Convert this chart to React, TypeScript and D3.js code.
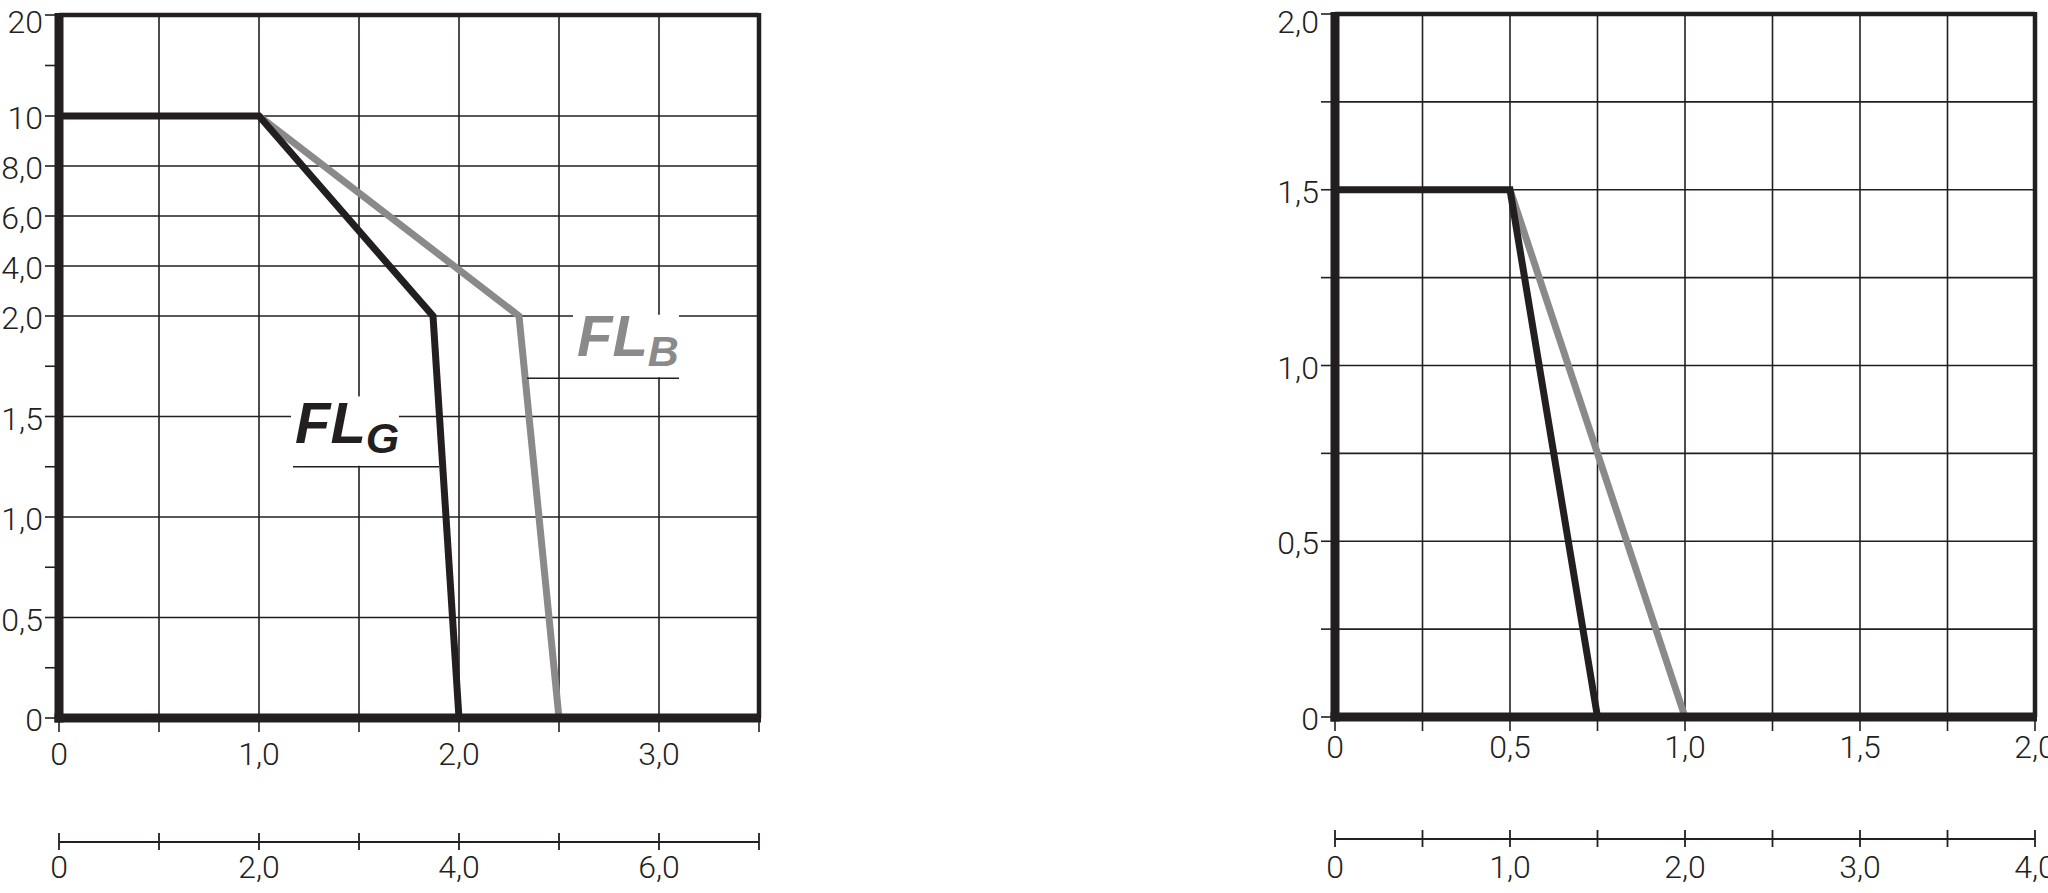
import * as d3 from "d3";

// left chart
const L_X_GRID = [0.5, 1, 1.5, 2, 2.5, 3];
const L_X_TICKS = [0, 0.5, 1, 1.5, 2, 2.5, 3, 3.5];
const L_X_LABELS = [0, 1, 2, 3];
const L_Y_GRID = [0.5, 1, 1.5, 2, 4, 6, 8, 10];
const L_Y_LABELS = [0, 0.5, 1, 1.5, 2, 4, 6, 8, 10, 20];
const L_Y_MINOR = [0.25, 0.75, 1.25, 1.75, 15];
const L_SEC_TICKS = [0, 1, 2, 3, 4, 5, 6, 7];
const L_SEC_LABELS = [0, 2, 4, 6];
const FL_G: [number, number][] = [[0, 10], [1, 10], [1.87, 2], [2, 0]];
const FL_B: [number, number][] = [[1, 10], [2.3, 2], [2.5, 0]];

// right chart
const R_GRID = [0.25, 0.5, 0.75, 1, 1.25, 1.5, 1.75];
const R_TICKS = [0, 0.25, 0.5, 0.75, 1, 1.25, 1.5, 1.75, 2];
const R_LABELS = [0, 0.5, 1, 1.5, 2];
const R_SEC_TICKS = [0, 0.5, 1, 1.5, 2, 2.5, 3, 3.5, 4];
const R_SEC_LABELS = [0, 1, 2, 3, 4];
const R_BLACK: [number, number][] = [[0, 1.5], [0.5, 1.5], [0.75, 0]];
const R_GREY: [number, number][] = [[0.5, 1.5], [1, 0]];

const INK = "#231f20";
const GREY = "#8a8a8a";
const FONT = "Roboto, 'Liberation Sans', sans-serif";

const fmt = (d: number) => (d === 0 ? "0" : d >= 10 ? String(d) : d.toFixed(1).replace(".", ","));

function Panel(props: {
  x: d3.ScaleLinear<number, number>;
  y: d3.ScaleLinear<number, number>;
  sec: d3.ScaleLinear<number, number>;
  xGrid: number[];
  yGrid: number[];
  xTicks: number[];
  xLabels: number[];
  yTicks: number[];
  yLabels: number[];
  secTicks: number[];
  secLabels: number[];
  secY: number;
  xLabelBase: number;
  series: { pts: [number, number][]; color: string }[];
  children?: any;
}) {
  const { x, y, sec } = props;
  const [x0, x1] = x.range();
  const yr = y.range();
  const y0 = yr[0];
  const y1 = yr[yr.length - 1];
  const line = d3
    .line<[number, number]>()
    .x((d) => x(d[0]))
    .y((d) => y(d[1]));
  return (
    <g>
      {props.xGrid.map((v) => (
        <line key={"gx" + v} x1={x(v)} x2={x(v)} y1={y0} y2={y1} stroke={INK} strokeWidth={1.6} />
      ))}
      {props.yGrid.map((v) => (
        <line key={"gy" + v} x1={x0} x2={x1} y1={y(v)} y2={y(v)} stroke={INK} strokeWidth={1.6} />
      ))}
      {props.children}
      {props.series.map((s, i) => (
        <path key={i} d={line(s.pts) ?? ""} fill="none" stroke={s.color} strokeWidth={7} strokeLinejoin="miter" />
      ))}
      {/* frame */}
      <line x1={x0} x2={x1} y1={y1} y2={y1} stroke={INK} strokeWidth={4.5} />
      <line x1={x1} x2={x1} y1={y1 - 2} y2={y0} stroke={INK} strokeWidth={4.5} />
      <line x1={x0} x2={x0} y1={y1 - 2} y2={y0 + 4.5} stroke={INK} strokeWidth={9} />
      <line x1={x0 - 4.5} x2={x1 + 2} y1={y0} y2={y0} stroke={INK} strokeWidth={9} />
      {/* y ticks */}
      {props.yTicks.map((v) => (
        <line key={"ty" + v} x1={x0 - 14} x2={x0} y1={y(v)} y2={y(v)} stroke={INK} strokeWidth={1.6} />
      ))}
      {props.yLabels.map((v) => (
        <text key={"ly" + v} x={x0 - 16} y={Math.max(y(v) + 13, 33)} textAnchor="end" fontSize={32} fontWeight={300} fontFamily={FONT} fill={INK}>
          {fmt(v)}
        </text>
      ))}
      {/* x ticks */}
      {props.xTicks.map((v) => (
        <line key={"tx" + v} x1={x(v)} x2={x(v)} y1={y0} y2={y0 + 14} stroke={INK} strokeWidth={1.6} />
      ))}
      {props.xLabels.map((v) => (
        <text key={"lx" + v} x={x(v)} y={props.xLabelBase} textAnchor="middle" fontSize={32} fontWeight={300} fontFamily={FONT} fill={INK}>
          {fmt(v)}
        </text>
      ))}
      {/* secondary scale */}
      <line x1={sec(sec.domain()[0])} x2={sec(sec.domain()[1])} y1={props.secY} y2={props.secY} stroke={INK} strokeWidth={2} />
      {props.secTicks.map((v) => (
        <line key={"ts" + v} x1={sec(v)} x2={sec(v)} y1={props.secY - 9} y2={props.secY + 8} stroke={INK} strokeWidth={1.8} />
      ))}
      {props.secLabels.map((v) => (
        <text key={"ls" + v} x={sec(v)} y={878} textAnchor="middle" fontSize={32} fontWeight={300} fontFamily={FONT} fill={INK}>
          {fmt(v)}
        </text>
      ))}
    </g>
  );
}

export default function App() {
  const lx = d3.scaleLinear().domain([0, 3.5]).range([59, 759]);
  const ly = d3.scaleLinear().domain([0, 2, 10, 20]).range([718, 316, 116, 15]);
  const lsec = d3.scaleLinear().domain([0, 7]).range([59, 759]);

  const rx = d3.scaleLinear().domain([0, 2]).range([1335, 2035]);
  const ry = d3.scaleLinear().domain([0, 2]).range([717, 14]);
  const rsec = d3.scaleLinear().domain([0, 4]).range([1335, 2035]);

  return (
    <svg
      width={2048}
      height={893}
      style={{ position: "absolute", left: 0, top: 0, background: "#fff", display: "block" }}
    >
      <Panel
        x={lx}
        y={ly}
        sec={lsec}
        xGrid={L_X_GRID}
        yGrid={L_Y_GRID}
        xTicks={L_X_TICKS}
        xLabels={L_X_LABELS}
        yTicks={[...L_Y_LABELS, ...L_Y_MINOR]}
        yLabels={L_Y_LABELS}
        secTicks={L_SEC_TICKS}
        secLabels={L_SEC_LABELS}
        secY={842}
        xLabelBase={765}
        series={[
          { pts: FL_B, color: GREY },
          { pts: FL_G, color: INK },
        ]}
      >
        {/* label backgrounds */}
        <rect x={lx(1.16)} y={ly(1.6)} width={lx(1.7) - lx(1.16)} height={ly(1.25) - ly(1.6) - 1} fill="#fff" />
        <rect x={lx(2.57)} y={ly(2.05)} width={lx(3.1) - lx(2.57)} height={ly(1.69) - ly(2.05) - 1} fill="#fff" />
      </Panel>
      {/* FL_G */}
      <text x={lx(1.18)} y={ly(1.37)} fontFamily="'Liberation Sans', Arial, sans-serif" fontWeight="bold" fontStyle="italic" fill={INK}>
        <tspan fontSize={58}>FL</tspan>
        <tspan fontSize={43} dy={10}>G</tspan>
      </text>
      <line x1={lx(1.17)} x2={lx(1.9)} y1={ly(1.25)} y2={ly(1.25)} stroke={INK} strokeWidth={1.6} />
      {/* FL_B */}
      <text x={lx(2.59)} y={ly(1.8)} fontFamily="'Liberation Sans', Arial, sans-serif" fontWeight="bold" fontStyle="italic" fill={GREY}>
        <tspan fontSize={58}>FL</tspan>
        <tspan fontSize={43} dy={10}>B</tspan>
      </text>
      <line x1={lx(2.34)} x2={lx(3.1)} y1={ly(1.69)} y2={ly(1.69)} stroke={INK} strokeWidth={1.6} />

      <Panel
        x={rx}
        y={ry}
        sec={rsec}
        xGrid={R_GRID}
        yGrid={R_GRID}
        xTicks={R_TICKS}
        xLabels={R_LABELS}
        yTicks={R_TICKS}
        yLabels={R_LABELS}
        secTicks={R_SEC_TICKS}
        secLabels={R_SEC_LABELS}
        secY={839}
        xLabelBase={758}
        series={[
          { pts: R_GREY, color: GREY },
          { pts: R_BLACK, color: INK },
        ]}
      />
    </svg>
  );
}
